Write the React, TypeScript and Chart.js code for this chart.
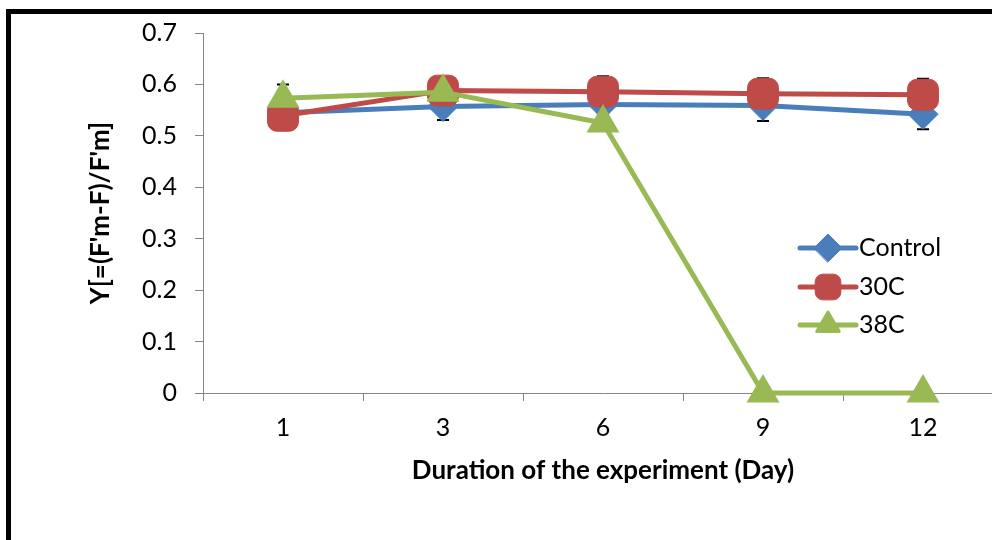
import React, { useEffect, useRef } from "react";
import { Chart, registerables } from "chart.js";
import { drawPoint } from "chart.js/helpers";

Chart.register(...registerables);

const days = ["1", "3", "6", "9", "12"];
const controlValues = [0.545, 0.557, 0.561, 0.559, 0.542];
const c30Values = [0.539, 0.588, 0.586, 0.582, 0.58];
const c38Values = [0.573, 0.585, 0.525, 0, 0];
const controlErr = [0.027, 0.026, 0.02, 0.03, 0.029];
const c30Err = [0.027, 0.026, 0.03, 0.03, 0.031];
const c38Err = [0.027, 0.026, 0.012, 0, 0];
const yTicks = [0, 0.1, 0.2, 0.3, 0.4, 0.5, 0.6, 0.7];

const FONT = "Lato";

const errorBarPlugin = {
  id: "errorBars",
  beforeDatasetsDraw(chart: any) {
    const ctx = chart.ctx;
    const yScale = chart.scales.y;
    ctx.save();
    ctx.strokeStyle = "#000";
    ctx.lineWidth = 2;
    chart.data.datasets.forEach((ds: any, i: number) => {
      const meta = chart.getDatasetMeta(i);
      const errs = ds.errors || [];
      meta.data.forEach((pt: any, j: number) => {
        const e = errs[j];
        if (!e) return;
        const v = ds.data[j];
        const yTop = yScale.getPixelForValue(v + e);
        const yBot = yScale.getPixelForValue(v - e);
        ctx.beginPath();
        ctx.moveTo(pt.x, yTop);
        ctx.lineTo(pt.x, yBot);
        ctx.moveTo(pt.x - 6, yTop);
        ctx.lineTo(pt.x + 6, yTop);
        ctx.moveTo(pt.x - 6, yBot);
        ctx.lineTo(pt.x + 6, yBot);
        ctx.stroke();
      });
    });
    ctx.restore();
  },
};

const legendPlugin = {
  id: "customLegend",
  afterDraw(chart: any) {
    const ctx = chart.ctx;
    const x0 = 800;
    const x1 = 856;
    const rows = [248, 287, 325];
    ctx.save();
    chart.data.datasets.forEach((ds: any, i: number) => {
      const y = rows[i];
      ctx.strokeStyle = ds.borderColor;
      ctx.lineWidth = 5;
      ctx.lineCap = "round";
      ctx.beginPath();
      ctx.moveTo(x0, y);
      ctx.lineTo(x1, y);
      ctx.stroke();
      ctx.fillStyle = ds.pointBackgroundColor;
      ctx.strokeStyle = ds.pointBorderColor;
      ctx.lineWidth = ds.pointBorderWidth;
      ctx.lineJoin = "round";
      drawPoint(
        ctx,
        {
          pointStyle: ds.pointStyle,
          radius: ds.legendRadius,
          borderWidth: ds.pointBorderWidth,
          rotation: 0,
        } as any,
        (x0 + x1) / 2,
        y
      );
      ctx.fillStyle = "#000";
      ctx.font = `25px ${FONT}`;
      ctx.textAlign = "left";
      ctx.textBaseline = "middle";
      ctx.fillText(ds.label, x1 + 3, y);
    });
    ctx.restore();
  },
};

export default function App() {
  const canvasRef = useRef<HTMLCanvasElement | null>(null);

  useEffect(() => {
    if (!canvasRef.current) return;
    const blue = "#4a7ebb";
    const red = "#be4b48";
    const green = "#98b954";
    const chart = new Chart(canvasRef.current, {
      type: "line",
      data: {
        labels: days,
        datasets: [
          {
            label: "Control",
            data: controlValues,
            errors: controlErr,
            borderColor: blue,
            backgroundColor: blue,
            pointBackgroundColor: blue,
            pointBorderColor: blue,
            pointBorderWidth: 1,
            borderWidth: 5,
            pointStyle: "rectRot",
            pointRadius: 15,
            legendRadius: 14,
            clip: false,
            order: 2,
          } as any,
          {
            label: "30C",
            data: c30Values,
            errors: c30Err,
            borderColor: red,
            backgroundColor: red,
            pointBackgroundColor: red,
            pointBorderColor: red,
            pointBorderWidth: 1,
            borderWidth: 5,
            pointStyle: "rectRounded",
            pointRadius: 18,
            legendRadius: 15,
            clip: false,
            order: 1,
          } as any,
          {
            label: "38C",
            data: c38Values,
            errors: c38Err,
            borderColor: green,
            backgroundColor: green,
            pointBackgroundColor: green,
            pointBorderColor: green,
            pointBorderWidth: 3,
            borderWidth: 5,
            pointStyle: "triangle",
            pointRadius: 16,
            legendRadius: 13,
            clip: false,
            order: 0,
          } as any,
        ],
      },
      options: {
        animation: false,
        responsive: false,
        maintainAspectRatio: false,
        layout: { padding: { left: 85, top: 31, right: 57, bottom: 54 } },
        elements: { line: { tension: 0, borderJoinStyle: "round", borderCapStyle: "round" } },
        plugins: { legend: { display: false }, tooltip: { enabled: false } },
        scales: {
          x: {
            type: "category",
            offset: true,
            grid: {
              display: true,
              drawOnChartArea: false,
              offset: true,
              tickLength: 8,
              color: "#868686",
            },
            border: { color: "#868686", width: 1 },
            ticks: { color: "#000", font: { family: FONT, size: 25 }, padding: 12 },
            title: {
              display: true,
              text: "Duration of the experiment (Day)",
              color: "#000",
              font: { family: FONT, size: 26, weight: "bold" },
              padding: 0,
            },
            afterFit: (scale: any) => {
              scale.height = 93;
            },
          },
          y: {
            min: 0,
            max: 0.7,
            afterBuildTicks: (scale: any) => {
              scale.ticks = yTicks.map((v) => ({ value: v }));
            },
            grid: {
              display: true,
              drawOnChartArea: false,
              tickLength: 8,
              color: "#868686",
            },
            border: { color: "#868686", width: 1 },
            ticks: {
              color: "#000",
              font: { family: FONT, size: 25 },
              padding: 18,
              callback: (v: any) => (Number(v) === 0 ? "0" : Number(v).toFixed(1)),
            },
            title: {
              display: true,
              text: "Y[=(F'm-F)/F'm]",
              color: "#000",
              font: { family: FONT, size: 26, weight: "bold" },
              padding: 0,
            },
            afterFit: (scale: any) => {
              scale.width = 118;
            },
          },
        },
      } as any,
      plugins: [errorBarPlugin, legendPlugin],
    });
    return () => chart.destroy();
  }, []);

  return (
    <div
      style={{
        position: "absolute",
        left: 0,
        top: 0,
        width: 992,
        height: 540,
        overflow: "hidden",
        background: "#fff",
      }}
    >
      <canvas
        ref={canvasRef}
        width={1060}
        height={540}
        style={{ position: "absolute", left: 0, top: 0, width: 1060, height: 540 }}
      />
      <div
        style={{
          position: "absolute",
          left: 6,
          top: 9,
          width: 1200,
          height: 800,
          borderLeft: "5px solid #000",
          borderTop: "5px solid #000",
          boxSizing: "border-box",
          pointerEvents: "none",
        }}
      />
    </div>
  );
}
